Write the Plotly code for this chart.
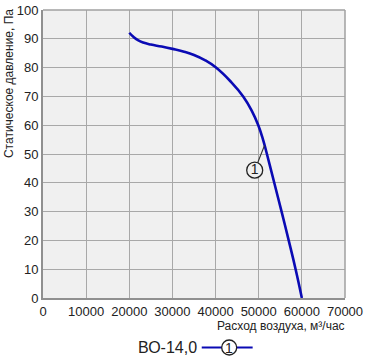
import plotly.graph_objects as go

# Data
flow = [20000, 21000, 22000, 23200, 25000, 27500, 30000, 32500, 35000, 37500,
        40100, 43600, 46400, 48400, 49900, 51000, 51900, 53600, 55300,
        56950, 58550, 60000]
pressure = [92.1, 90.6, 89.5, 88.7, 88.0, 87.3, 86.5, 85.6, 84.4, 82.6,
            80.0, 75.0, 70.0, 65.0, 60.0, 55.0, 50.0, 40.0, 30.0,
            20.0, 10.0, 0.0]
x_ticks = [0, 10000, 20000, 30000, 40000, 50000, 60000, 70000]
y_ticks = [0, 10, 20, 30, 40, 50, 60, 70, 80, 90, 100]
label_pos = (49070, 44.4)
label_target = (51350, 53.0)
series_name = "ВО-14,0"
curve_id = "1"

W, H = 375, 363
L, R, T, B = 43, 29.5, 10, 65
pw = W - L - R
ph = H - T - B

def px2paper_x(px):
    return (px - L) / pw

def py2paper_y(py):
    return (H - B - py) / ph

BLUE = "#0a0ab4"
FONT = "Liberation Sans, Arial, sans-serif"

fig = go.Figure()
fig.add_trace(go.Scatter(x=flow, y=pressure, mode="lines",
                         line=dict(color=BLUE, width=2.6, shape="spline", smoothing=1.3),
                         showlegend=False, hoverinfo="skip"))
# leader line
fig.add_trace(go.Scatter(x=[label_pos[0] + 700, label_target[0]],
                         y=[label_pos[1] + 2.6, label_target[1]], mode="lines",
                         line=dict(color="#333333", width=1.2), showlegend=False,
                         hoverinfo="skip"))
fig.add_trace(go.Scatter(x=[label_pos[0]], y=[label_pos[1]], mode="markers+text",
                         marker=dict(symbol="circle", size=16, color="#f0f0f0",
                                     line=dict(color="#222222", width=1.3)),
                         text=[curve_id], textposition="middle center",
                         textfont=dict(size=14, color="#222222", family=FONT),
                         showlegend=False, hoverinfo="skip"))

axis_common = dict(showgrid=True, gridcolor="#a8a8a8", gridwidth=1,
                   showline=True, linecolor="#909090", linewidth=2, mirror=False,
                   zeroline=False, ticks="", automargin=False,
                   tickfont=dict(size=13, color="#222222", family=FONT))
fig.update_xaxes(range=[0, 70000], tickvals=x_ticks, ticktext=[str(v) for v in x_ticks],
                 **axis_common)
fig.update_yaxes(range=[0, 100], tickvals=y_ticks, ticktext=[str(v) for v in y_ticks],
                 **axis_common)

shapes = [
    dict(type="line", xref="paper", yref="paper", x0=0, x1=1, y0=1, y1=1,
         line=dict(color="#a0a0a0", width=1.5)),
    dict(type="line", xref="paper", yref="paper", x0=1, x1=1, y0=0, y1=1,
         line=dict(color="#a0a0a0", width=1.5)),
    dict(type="line", xref="paper", yref="paper",
         x0=px2paper_x(202), x1=px2paper_x(253), y0=py2paper_y(347.5), y1=py2paper_y(347.5),
         line=dict(color=BLUE, width=2)),
    dict(type="circle", xref="paper", yref="paper", xsizemode="pixel", ysizemode="pixel",
         xanchor=px2paper_x(229.5), yanchor=py2paper_y(347.5),
         x0=-7.5, x1=7.5, y0=-7.5, y1=7.5,
         fillcolor="white", line=dict(color="#222222", width=1.3)),
]

annotations = [
    dict(text="Статическое давление, Па", xref="paper", yref="paper",
         x=px2paper_x(9), y=py2paper_y(84), textangle=-90, showarrow=False,
         font=dict(size=12, color="#222222", family=FONT), xanchor="center", yanchor="middle"),
    dict(text="Расход воздуха, м³/час", xref="paper", yref="paper",
         x=px2paper_x(348), y=py2paper_y(326), showarrow=False,
         font=dict(size=12, color="#222222", family=FONT), xanchor="right", yanchor="middle"),
    dict(text=series_name, xref="paper", yref="paper",
         x=px2paper_x(199), y=py2paper_y(347), showarrow=False,
         font=dict(size=16, color="#222222", family=FONT), xanchor="right", yanchor="middle"),
    dict(text=curve_id, xref="paper", yref="paper",
         x=px2paper_x(229.5), y=py2paper_y(347.5), showarrow=False,
         font=dict(size=14, color="#222222", family=FONT), xanchor="center", yanchor="middle"),
]

fig.update_layout(template="none", width=W, height=H, autosize=False,
                  margin=dict(l=L, r=R, t=T, b=B, pad=0),
                  plot_bgcolor="#f0f0f0", paper_bgcolor="white",
                  shapes=shapes, annotations=annotations, showlegend=False,
                  hovermode=False, font=dict(family=FONT))

fig.write_html("out.html", config={"displayModeBar": False, "staticPlot": True},
               post_script="document.body.style.margin='0';document.body.style.overflow='hidden';")
